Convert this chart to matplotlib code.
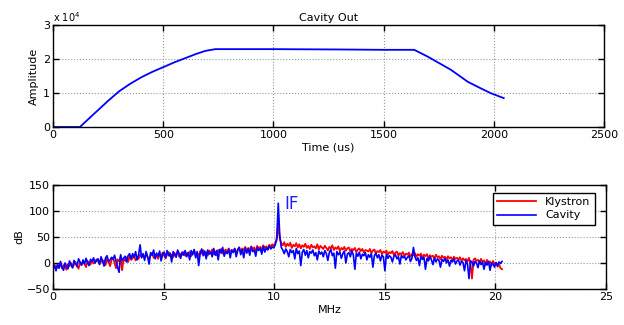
import numpy as np
import matplotlib
matplotlib.use('Agg')
import matplotlib.pyplot as plt

# cavity amplitude envelope (time in us, amplitude in counts)
time_us = [0, 122, 160, 200, 250, 300, 350, 400, 450, 500, 550, 602, 650, 692, 737,
           760, 1000, 1300, 1500, 1639, 1700, 1760, 1806, 1882, 1940, 1988, 2045]
amplitude = [0, 0, 2300, 4700, 7700, 10500, 12700, 14600, 16200, 17600, 19000, 20300,
             21500, 22400, 22900, 22900, 22900, 22800, 22700, 22700, 20700, 18500,
             16800, 13300, 11400, 9900, 8500]

# spectrum (dB), bins spread evenly from 0 to 20.3 MHz
freq_start, freq_stop = 0.0, 20.3
klystron = [
    -8, -3, -12, -5, -9, -1, -10, -4, -7, -13, -2, -6, 0, -9, -3, 2, -5, -11, 1, -4, 3, -2, -8, 4, 0, -3, 6, -1, 2, 7,
    3, -2, 8, 1, 5, -4, 9, 2, -6, 6, 10, 0, -10, 7, 3, 12, -14, 8, 4, 11, 2, 13, 6, 9, 15, 5, 11, 8, 16, 12,
    14, 9, 17, 11, 6, 15, 19, 10, 16, 13, 8, 18, 12, 20, 14, 9, 17, 21, 13, 16, 11, 19, 15, 22, 12, 18, 16, 21, 14, 19,
    17, 22, 13, 19, 24, 15, 20, 11, 23, 18, 25, 16, 21, 14, 24, 19, 26, 17, 22, 15, 25, 20, 27, 18, 23, 26, 19, 28, 21, 25,
    22, 27, 19, 26, 30, 21, 28, 24, 31, 23, 29, 25, 32, 26, 30, 22, 33, 27, 31, 25, 34, 29, 32, 28, 35, 31, 36, 33, 38, 44,
    75, 48, 38, 34, 40, 31, 37, 33, 39, 29, 35, 32, 38, 30, 36, 28, 34, 31, 37, 29, 33, 27, 35, 30, 32, 28, 36, 26, 33, 30,
    27, 33, 29, 24, 31, 28, 34, 25, 30, 27, 32, 23, 29, 26, 31, 24, 28, 30, 22, 27, 25, 29, 21, 26, 28, 23, 27, 20, 25, 24,
    22, 27, 19, 24, 26, 18, 23, 21, 25, 17, 22, 20, 24, 16, 21, 19, 23, 15, 20, 22, 14, 19, 17, 21, 13, 18, 16, 20, 12, 17,
    15, 19, 12, 17, 14, 18, 10, 16, 13, 17, 9, 15, 12, 14, 8, 16, 11, 13, 7, 14, 10, 12, 6, 13, 9, 11, 5, 12, 8, 10,
    7, 11, 4, 9, 5, 8, 3, 10, -2, -30, 6, 9, 4, 6, 0, 8, 2, 5, -3, 6, 1, 3, -5, 4, -2, 0, -7, -3, -10, -12]
cavity = [
    -12, -5, -15, -2, -10, 3, -8, -14, 0, -6, -11, 4, -3, -9, 5, -1, -7, 8, 2, -4, 6, -2, 9, 1, -5, 7, 3, 10, 0, 5,
    8, -3, 12, 4, -6, 10, 14, 2, 6, 11, 7, 15, 3, -8, -18, 16, 5, 9, 13, 2, 14, 18, 8, 18, 11, 22, 6, 16, 35, 10,
    18, 5, 22, 12, -2, 20, 15, 25, 8, 19, 13, 23, 4, 17, 21, 10, 24, 14, 19, 2, 22, 16, 11, 25, 18, 9, 21, 15, 24, 12,
    20, 6, 24, 16, 26, 10, 22, -5, 18, 27, 14, 23, 8, 25, 17, 21, 12, 28, 15, 24, 6, 26, 19, 30, 13, 22, 18, 27, 10, 25,
    20, 28, 12, 24, 30, 16, 26, 10, 29, 19, 27, 15, 31, 22, 25, 13, 30, 24, 28, 17, 32, 21, 29, 25, 33, 27, 31, 29, 35, 48,
    115, 52, 30, 25, 18, 27, 22, 12, 26, 20, 24, 8, 28, 18, 23, -5, 21, 26, 15, 24, 10, 22, 19, 25, 14, 20, 6, 23, 17, 21,
    12, 24, 18, 5, 20, 26, 14, 19, -10, 22, 16, 21, 9, 18, 23, 0, 17, 20, 12, 24, 15, -12, 19, 13, 21, 8, 17, 14, 20, 6,
    16, 11, 18, -8, 14, 19, 10, 16, 4, 15, 12, -15, 17, 9, 14, 11, 2, 13, 16, 8, 12, -2, 15, 10, 13, 6, 11, 14, 3, 9,
    30, 12, 5, 10, -5, 13, 7, 11, -12, 9, 4, 12, 6, -3, 10, 2, 8, 5, -8, 7, 3, 9, 0, 6, -6, 5, 2, 8, -2, 4,
    6, -4, 3, 1, -15, 5, -2, -30, 4, 2, -6, 3, 0, -9, 4, -3, 2, -12, 1, -4, 3, -14, 0, -2, -8, 1, -5, 2, -1, 3]

freq = np.linspace(freq_start, freq_stop, len(klystron))

plt.rcParams['font.family'] = ['DejaVu Sans']
plt.rcParams['font.size'] = 8

fig = plt.figure(figsize=(6.24, 3.25), dpi=100)
W, H = 624.0, 325.0
ax1 = fig.add_axes([53/W, 1-127/H, 551/W, 102/H])
ax2 = fig.add_axes([53/W, 1-289/H, 553/W, 104/H])

def matlab_style(ax):
    ax.grid(True, linestyle=':', color='0.6', linewidth=0.8)
    ax.tick_params(direction='in', top=True, right=True, length=4, width=1, labelsize=8, pad=2)
    for s in ax.spines.values():
        s.set_linewidth(1.0)

ax1.plot(time_us, np.array(amplitude)/1e4, color='#0000ff', linewidth=1.3)
ax1.set_xlim(0, 2500)
ax1.set_ylim(0, 3)
ax1.set_xticks([0, 500, 1000, 1500, 2000, 2500])
ax1.set_yticks([0, 1, 2, 3])
ax1.set_title('Cavity Out', fontsize=8, pad=3)
ax1.set_xlabel('Time (us)', fontsize=8, labelpad=2)
ax1.set_ylabel('Amplitude', fontsize=8, labelpad=3)
ax1.text(0.0, 1.03, r'x 10$^4$', transform=ax1.transAxes, fontsize=7)
matlab_style(ax1)

ax2.plot(freq, klystron, color='#ff0000', linewidth=1.3, label='Klystron')
ax2.plot(freq, cavity, color='#0000ff', linewidth=1.2, label='Cavity')
ax2.set_xlim(0, 25)
ax2.set_ylim(-50, 150)
ax2.set_xticks([0, 5, 10, 15, 20, 25])
ax2.set_yticks([-50, 0, 50, 100, 150])
ax2.set_xlabel('MHz', fontsize=8, labelpad=2)
ax2.set_ylabel('dB', fontsize=8, labelpad=2)
ax2.text(10.45, 113, 'IF', color='#2020ff', fontsize=12, va='center')
matlab_style(ax2)
leg = ax2.legend(loc='upper right', bbox_to_anchor=(0.99, 0.98), fontsize=8, fancybox=False,
                 edgecolor='black', framealpha=1, handlelength=3.5, borderpad=0.4,
                 labelspacing=0.3)
leg.get_frame().set_linewidth(1.0)

fig.savefig('out.png', dpi=100)
